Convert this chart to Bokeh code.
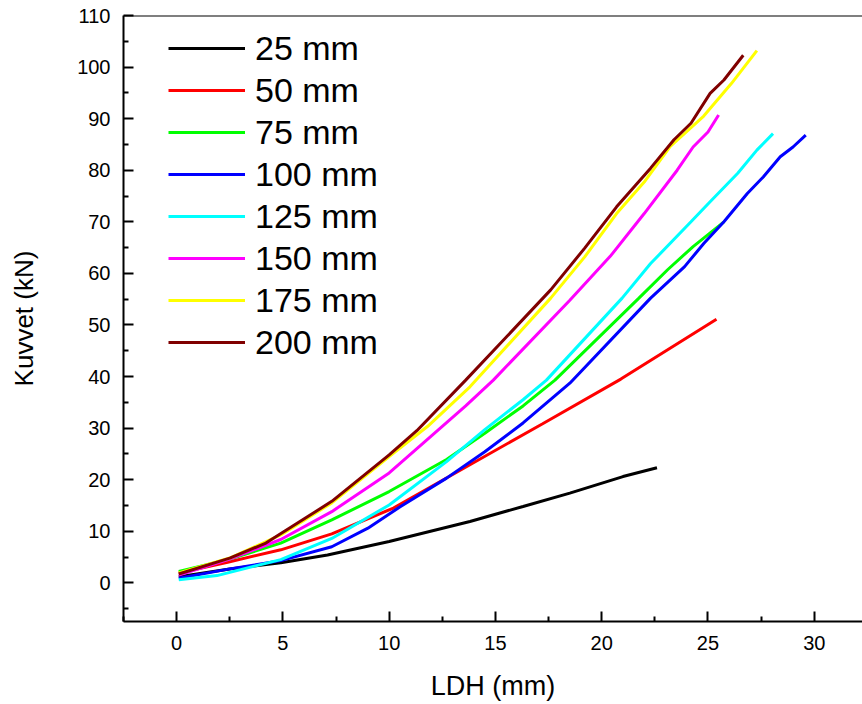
from bokeh.plotting import figure
from bokeh.models import (Legend, LegendItem, FixedTicker, Span, Range1d)
from bokeh.embed import file_html
from bokeh.resources import INLINE

# ---- data ----
labels = ["25 mm", "50 mm", "75 mm", "100 mm", "125 mm", "150 mm", "175 mm", "200 mm"]
colors = ["#000000", "#FF0000", "#00FF00", "#0000FF", "#00FFFF", "#FF00FF", "#FFFF00", "#800000"]

x25 = [0.1, 2.5, 4.9, 7.1, 10.0, 13.8, 16.3, 18.5, 21.0, 22.6]
y25 = [1.2, 2.7, 3.9, 5.4, 8.0, 11.9, 14.8, 17.4, 20.6, 22.3]

x50 = [0.1, 2.4, 4.9, 7.3, 10.2, 13.8, 17.2, 20.9, 25.4]
y50 = [1.9, 4.0, 6.4, 9.5, 14.5, 22.9, 30.8, 39.5, 51.1]

x75 = [0.1, 2.5, 4.9, 7.3, 10.0, 12.7, 14.5, 16.3, 17.8, 21.75, 23.1, 24.3, 25.75]
y75 = [2.2, 4.6, 7.7, 12.2, 17.7, 23.9, 29.0, 34.3, 39.3, 55.2, 60.7, 65.2, 70.0]

x100 = [0.1, 2.5, 4.9, 7.3, 9.0, 10.5, 12.7, 14.5, 16.3, 18.5, 22.3, 23.9, 24.8, 25.75, 26.85, 27.6, 28.4, 29.0, 29.6]
y100 = [0.9, 2.7, 4.3, 7.0, 10.6, 14.7, 20.3, 25.4, 31.0, 38.7, 55.2, 61.3, 65.8, 70.0, 75.5, 78.7, 82.6, 84.5, 86.8]

x125 = [0.1, 1.9, 4.9, 7.3, 10.0, 12.7, 14.5, 16.3, 17.4, 20.96, 22.3, 24.2, 25.1, 26.4, 27.3, 28.06]
y125 = [0.6, 1.4, 4.5, 8.6, 15.1, 23.5, 29.7, 35.5, 39.3, 55.2, 61.9, 70.0, 73.9, 79.4, 83.9, 87.1]

x150 = [0.1, 2.5, 4.9, 7.3, 10.0, 11.6, 13.6, 14.9, 18.5, 20.4, 22.0, 23.55, 24.3, 25.0, 25.5]
y150 = [1.5, 4.6, 8.4, 13.8, 21.3, 27.1, 34.3, 39.3, 54.8, 63.3, 71.6, 80.0, 84.5, 87.4, 90.7]

x175 = [0.1, 2.5, 4.9, 7.3, 10.0, 11.8, 13.8, 17.6, 19.2, 20.7, 22.0, 23.2, 24.8, 26.1, 27.3]
y175 = [1.9, 4.8, 9.3, 15.5, 24.5, 30.3, 38.0, 55.2, 63.2, 71.6, 77.7, 84.5, 90.5, 96.8, 103.2]

x200 = [0.1, 2.5, 4.2, 7.3, 10.0, 11.3, 13.6, 17.6, 19.2, 20.7, 22.3, 23.4, 24.2, 25.1, 25.75, 26.66]
y200 = [1.7, 4.8, 7.7, 15.8, 24.8, 29.5, 39.3, 56.8, 64.9, 72.9, 80.4, 85.9, 89.1, 94.9, 97.5, 102.3]

xs = [x25, x50, x75, x100, x125, x150, x175, x200]
ys = [y25, y50, y75, y100, y125, y150, y175, y200]

x_ticks = [0, 5, 10, 15, 20, 25, 30]
x_minor = [-2.5, 2.5, 7.5, 12.5, 17.5, 22.5, 27.5, 32.5]
y_ticks = list(range(0, 111, 10))
y_minor = list(range(-5, 111, 10))

FONT = "Liberation Sans"

p = figure(width=862, height=704, output_backend="svg", toolbar_location=None,
           x_range=Range1d(-2.5, 32.27), y_range=Range1d(-7.5, 110),
           min_border_left=123, min_border_top=15, min_border_right=0,
           min_border_bottom=83)
p.outline_line_color = None
p.xgrid.visible = False
p.ygrid.visible = False
p.background_fill_color = "white"
p.border_fill_color = "white"

renderers = []
for xv, yv, c in zip(xs, ys, colors):
    r = p.line(xv, yv, line_color=c, line_width=3)
    renderers.append(r)

for ax in (p.xaxis[0], p.yaxis[0]):
    ax.axis_line_width = 2
    ax.axis_line_color = "black"
    ax.major_tick_line_width = 2
    ax.minor_tick_line_width = 2
    ax.major_tick_in = 10
    ax.major_tick_out = 0
    ax.minor_tick_in = 5
    ax.minor_tick_out = 0
    ax.major_label_text_font = FONT
    ax.major_label_text_font_size = "20px"
    ax.major_label_text_color = "black"
    ax.axis_label_text_font = FONT
    ax.axis_label_text_font_style = "normal"
    ax.axis_label_text_color = "black"

p.xaxis[0].axis_label_text_font_size = "27px"
p.yaxis[0].axis_label_text_font_size = "26px"
p.xaxis[0].ticker = FixedTicker(ticks=x_ticks, minor_ticks=x_minor)
p.yaxis[0].ticker = FixedTicker(ticks=y_ticks, minor_ticks=y_minor)
p.xaxis[0].axis_label = "LDH (mm)"
p.yaxis[0].axis_label = "Kuvvet (kN)"
p.xaxis[0].major_label_standoff = 14
p.xaxis[0].axis_label_standoff = 18
p.yaxis[0].major_label_standoff = 13
p.yaxis[0].axis_label_standoff = 35

top = Span(location=110, dimension="width", line_color="black", line_width=2)
p.add_layout(top)

legend = Legend(items=[LegendItem(label=l, renderers=[r]) for l, r in zip(labels, renderers)],
                location=(45, 258), glyph_width=77, glyph_height=42, label_height=42,
                spacing=0, padding=0, margin=0, label_standoff=10,
                label_text_font=FONT, label_text_font_size="34px",
                label_text_color="black",
                border_line_color=None, background_fill_alpha=0)
p.add_layout(legend)

open("out.html", "w").write(file_html(p, INLINE))
